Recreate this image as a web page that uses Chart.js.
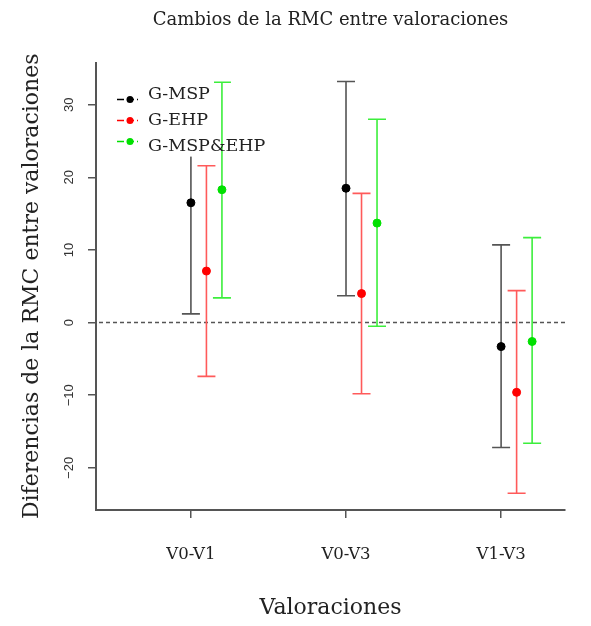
<!DOCTYPE html>
<html lang="es">
<head>
<meta charset="utf-8">
<title>Cambios de la RMC entre valoraciones</title>
<script src="https://cdn.jsdelivr.net/npm/chart.js@4.4.1/dist/chart.umd.min.js"></script>
<style>
  html, body { margin: 0; padding: 0; background: #fff; }
  #wrap { width: 591px; height: 626px; }
</style>
</head>
<body>
<div id="wrap"><canvas id="rmc-chart"></canvas></div>
<script>
// Datos
const categories = ['V0-V1', 'V0-V3', 'V1-V3'];
const groups = ['G-MSP', 'G-EHP', 'G-MSP&EHP'];
const pointColors = ['#000000', '#ff0000', '#00e000'];
const barColors = ['#555555', '#ff5a5a', '#3cee3c'];
const groupOffsets = [0, 0.1, 0.2];

const mspMean = [16.5, 18.5, -3.3];
const mspLow = [1.2, 3.7, -17.2];
const mspHigh = [31.8, 33.2, 10.7];

const ehpMean = [7.1, 4.0, -9.6];
const ehpLow = [-7.4, -9.8, -23.5];
const ehpHigh = [21.6, 17.8, 4.4];

const bothMean = [18.3, 13.7, -2.6];
const bothLow = [3.4, -0.5, -16.6];
const bothHigh = [33.1, 28.0, 11.7];

const xTicks = [1, 2, 3];
const yTicks = [-20, -10, 0, 10, 20, 30];

const serif = '"DejaVu Serif", serif';
const sans = '"Liberation Sans", Arial, sans-serif';

const series = [
    { mean: mspMean, low: mspLow, high: mspHigh },
    { mean: ehpMean, low: ehpLow, high: ehpHigh },
    { mean: bothMean, low: bothLow, high: bothHigh }
];

const datasets = series.map((s, i) => ({
    label: groups[i],
    data: s.mean.map((m, j) => ({ x: xTicks[j] + groupOffsets[i], y: m, low: s.low[j], high: s.high[j] })),
    backgroundColor: pointColors[i],
    borderColor: pointColors[i],
    pointRadius: 4,
    showLine: false
}));

// Línea en 0 y barras de error (debajo de los puntos)
const errorBars = {
    id: 'errorBars',
    beforeDatasetsDraw(chart) {
        const { ctx, chartArea, scales: { x, y } } = chart;
        ctx.save();
        const y0 = y.getPixelForValue(0);
        ctx.setLineDash([4, 3]);
        ctx.strokeStyle = '#555';
        ctx.lineWidth = 1.5;
        ctx.beginPath();
        ctx.moveTo(chartArea.left + 3, y0);
        ctx.lineTo(chartArea.right, y0);
        ctx.stroke();
        ctx.setLineDash([]);

        chart.data.datasets.forEach((ds, i) => {
            ctx.strokeStyle = barColors[i];
            ctx.lineWidth = 1.6;
            ds.data.forEach(p => {
                const px = x.getPixelForValue(p.x);
                const top = y.getPixelForValue(p.high);
                const bottom = y.getPixelForValue(p.low);
                ctx.beginPath();
                ctx.moveTo(px, top); ctx.lineTo(px, bottom);
                ctx.moveTo(px - 9, top); ctx.lineTo(px + 9, top);
                ctx.moveTo(px - 9, bottom); ctx.lineTo(px + 9, bottom);
                ctx.stroke();
            });
        });
        ctx.restore();
    }
};

// Leyenda dentro del área del gráfico
const innerLegend = {
    id: 'innerLegend',
    afterDatasetsDraw(chart) {
        const { ctx, chartArea } = chart;
        const left = chartArea.left;
        const top = chartArea.top;
        ctx.save();
        ctx.fillStyle = '#fff';
        ctx.fillRect(left + 12, top + 18, 106, 76);
        chart.data.datasets.forEach((ds, i) => {
            const rowY = top + 37 + i * 21;
            ctx.strokeStyle = pointColors[i];
            ctx.lineWidth = 1.5;
            ctx.setLineDash([7, 3]);
            ctx.beginPath();
            ctx.moveTo(left + 21, rowY);
            ctx.lineTo(left + 42, rowY);
            ctx.stroke();
            ctx.setLineDash([]);
            ctx.fillStyle = pointColors[i];
            ctx.beginPath();
            ctx.arc(left + 34, rowY, 3.5, 0, Math.PI * 2);
            ctx.fill();
            ctx.fillStyle = '#222';
            ctx.font = '17.5px ' + serif;
            ctx.textBaseline = 'middle';
            ctx.fillText(ds.label, left + 52, top + 32 + i * 26);
        });
        ctx.restore();
    }
};

const ctx = document.getElementById('rmc-chart').getContext('2d');
new Chart(ctx, {
    type: 'scatter',
    data: { datasets: datasets },
    plugins: [errorBars, innerLegend],
    options: {
        responsive: true,
        maintainAspectRatio: false,
        animation: false,
        layout: { padding: { left: 0, right: 26, top: 0, bottom: 0 } },
        plugins: {
            legend: { display: false },
            tooltip: { enabled: false },
            title: {
                display: true,
                text: 'Cambios de la RMC entre valoraciones',
                fullSize: false,
                color: '#222',
                font: { family: serif, size: 18, weight: 'normal' },
                padding: { top: 10, bottom: 31 }
            }
        },
        scales: {
            x: {
                type: 'linear',
                min: 0.388,
                max: 3.412,
                afterBuildTicks: scale => { scale.ticks = xTicks.map(v => ({ value: v })); },
                afterFit: scale => { scale.height = 116; },
                ticks: {
                    callback: v => categories[v - 1],
                    color: '#222',
                    font: { family: serif, size: 16.5 },
                    padding: 27,
                    maxRotation: 0
                },
                grid: { drawOnChartArea: false, tickLength: 8, color: '#555', lineWidth: 1.5 },
                border: { display: true, color: '#555', width: 2 },
                title: {
                    display: true,
                    text: 'Valoraciones',
                    color: '#222',
                    font: { family: serif, size: 22 },
                    padding: { top: 0, bottom: 5 }
                }
            },
            y: {
                type: 'linear',
                min: -25.8,
                max: 35.8,
                afterBuildTicks: scale => { scale.ticks = yTicks.map(v => ({ value: v })); },
                afterFit: scale => { scale.width = 96; },
                ticks: {
                    callback: v => v < 0 ? '\u2212' + (-v) : String(v),
                    color: '#333',
                    font: { family: sans, size: 13 },
                    minRotation: 90,
                    maxRotation: 90,
                    crossAlign: 'center',
                    padding: 8
                },
                grid: { drawOnChartArea: false, tickLength: 8, color: '#555', lineWidth: 1.5 },
                border: { display: true, color: '#555', width: 2 },
                title: {
                    display: true,
                    text: 'Diferencias de la RMC entre valoraciones',
                    color: '#222',
                    font: { family: serif, size: 22 },
                    padding: { top: 19, bottom: 0 }
                }
            }
        }
    }
});
</script>
</body>
</html>
